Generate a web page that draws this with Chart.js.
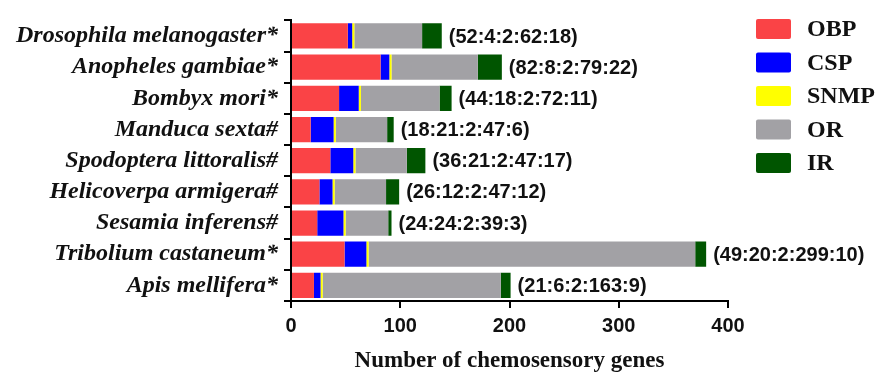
<!DOCTYPE html>
<html>
<head>
<meta charset="utf-8">
<script src="https://cdn.jsdelivr.net/npm/chart.js@4.4.1/dist/chart.umd.min.js"></script>
<style>
  html, body { margin: 0; padding: 0; background: #fff; }
  #wrap { width: 876px; height: 375px; }
</style>
</head>
<body>
<div id="wrap"><canvas id="c" width="876" height="375"></canvas></div>
<script>
// Insect species and their chemosensory gene family counts
const species = [
  'Drosophila melanogaster*',
  'Anopheles gambiae*',
  'Bombyx mori*',
  'Manduca sexta#',
  'Spodoptera littoralis#',
  'Helicoverpa armigera#',
  'Sesamia inferens#',
  'Tribolium castaneum*',
  'Apis mellifera*'
];
const obp  = [52, 82, 44, 18, 36, 26, 24, 49, 21];
const csp  = [4, 8, 18, 21, 21, 12, 24, 20, 6];
const snmp = [2, 2, 2, 2, 2, 2, 2, 2, 2];
const or   = [62, 79, 72, 47, 47, 47, 39, 299, 163];
const ir   = [18, 22, 11, 6, 17, 12, 3, 10, 9];
const xTicks = [0, 100, 200, 300, 400];

const families = [
  { label: 'OBP',  data: obp,  color: '#FA4346' },
  { label: 'CSP',  data: csp,  color: '#0000FF' },
  { label: 'SNMP', data: snmp, color: '#FFFF00' },
  { label: 'OR',   data: or,   color: '#A2A1A5' },
  { label: 'IR',   data: ir,   color: '#005500' }
];

// "(OBP:CSP:SNMP:OR:IR)" text at the end of each stacked bar
const countLabels = {
  id: 'countLabels',
  afterDatasetsDraw(chart) {
    const ctx = chart.ctx;
    const last = chart.getDatasetMeta(chart.data.datasets.length - 1);
    ctx.save();
    ctx.font = 'bold 20px "Liberation Sans", Arial, sans-serif';
    ctx.fillStyle = '#111';
    ctx.textAlign = 'left';
    ctx.textBaseline = 'middle';
    last.data.forEach((bar, i) => {
      const txt = '(' + [obp[i], csp[i], snmp[i], or[i], ir[i]].join(':') + ')';
      ctx.fillText(txt, bar.x + 7, bar.y + 1);
    });
    ctx.restore();
  }
};

// Legend column to the right of the plot
const sideLegend = {
  id: 'sideLegend',
  afterDraw(chart) {
    const ctx = chart.ctx;
    ctx.save();
    ctx.font = 'bold 24px "Liberation Serif", "Times New Roman", serif';
    ctx.textBaseline = 'middle';
    ctx.textAlign = 'left';
    families.forEach((f, i) => {
      const y = 19 + i * 33.5;
      ctx.fillStyle = f.color;
      ctx.beginPath();
      ctx.roundRect(756, y, 35, 20, 2);
      ctx.fill();
      ctx.fillStyle = '#111';
      ctx.fillText(f.label, 807, y + 11);
    });
    ctx.restore();
  }
};

new Chart(document.getElementById('c'), {
  type: 'bar',
  data: {
    labels: species,
    datasets: families.map(f => ({
      label: f.label,
      data: f.data,
      backgroundColor: f.color,
      borderWidth: 0,
      barPercentage: 0.81,
      categoryPercentage: 1.0
    }))
  },
  options: {
    indexAxis: 'y',
    responsive: false,
    animation: false,
    layout: { padding: { top: 12, right: 148, left: 0, bottom: 0 } },
    plugins: {
      legend: { display: false },
      tooltip: { enabled: false }
    },
    scales: {
      x: {
        stacked: true,
        min: 0,
        max: 400,
        afterBuildTicks(scale) { scale.ticks = xTicks.map(v => ({ value: v })); },
        afterFit(scale) { scale.height = 74; },
        border: { display: true, color: '#000', width: 2 },
        grid: { display: true, drawOnChartArea: false, drawTicks: true, tickLength: 7, color: '#000', lineWidth: 2 },
        ticks: {
          color: '#111',
          padding: 6,
          font: { family: '"Liberation Sans", Arial, sans-serif', size: 20, weight: 'bold' }
        },
        title: {
          display: true,
          text: 'Number of chemosensory genes',
          color: '#111',
          padding: { top: 0, bottom: 0 },
          font: { family: '"Liberation Serif", "Times New Roman", serif', size: 23, weight: 'bold' }
        }
      },
      y: {
        stacked: true,
        afterFit(scale) { scale.width = 291; },
        border: { display: true, color: '#000', width: 2 },
        grid: { display: true, drawOnChartArea: false, drawTicks: true, tickLength: 7, color: '#000', lineWidth: 2 },
        ticks: {
          color: '#111',
          padding: 6,
          autoSkip: false,
          font: { family: '"Liberation Serif", "Times New Roman", serif', size: 24, weight: 'bold', style: 'italic' }
        }
      }
    }
  },
  plugins: [countLabels, sideLegend]
});
</script>
</body>
</html>
